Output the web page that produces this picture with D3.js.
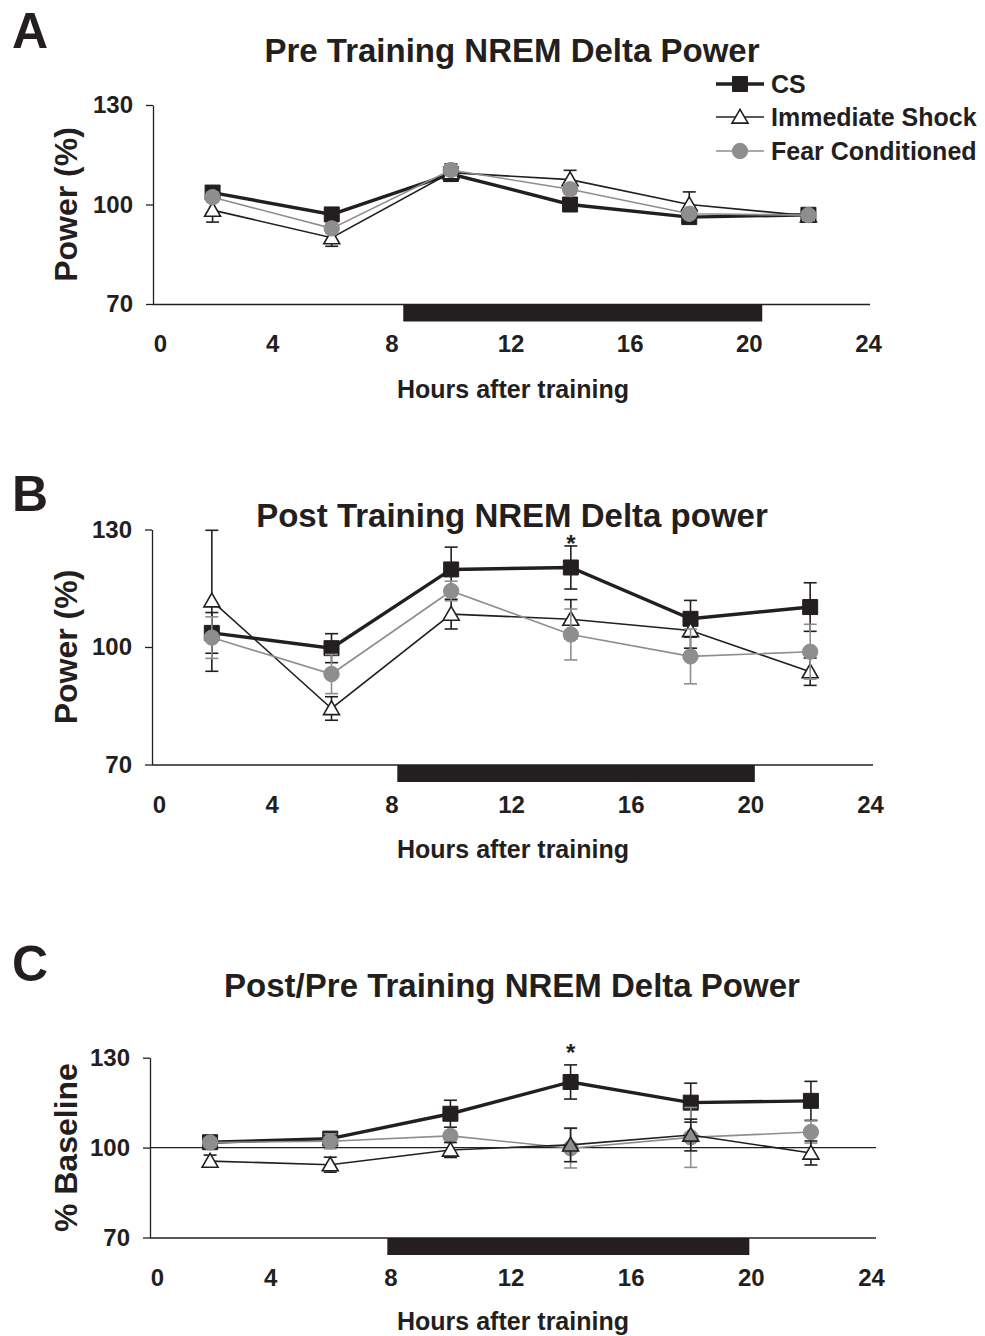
<!DOCTYPE html>
<html><head><meta charset="utf-8">
<script src="https://cdn.jsdelivr.net/npm/d3@7"></script>
<style>
body{margin:0;background:#fff;}
svg{display:block;font-family:"Liberation Sans",Arial,Helvetica,sans-serif;font-weight:bold;}
</style></head><body>
<svg id="chart" width="985" height="1336"></svg>
<script>
// ---------------- data ----------------
const hours = [2, 6, 10, 14, 18, 22];
const xTickValues = [0, 4, 8, 12, 16, 20, 24];
const yTickValues = [70, 100, 130];
const seriesNames = ["CS", "Immediate Shock", "Fear Conditioned"];
const panelLetters = ["A", "B", "C"];
const panelTitles = ["Pre Training NREM Delta Power", "Post Training NREM Delta power", "Post/Pre Training NREM Delta Power"];
const yAxisTitles = ["Power (%)", "Power (%)", "% Baseline"];
const xAxisTitle = "Hours after training";

// Panel A: pre training
const csA    = [103.6, 97.0, 109.2, 100.0, 96.2, 96.9];
const csErrA = [1.2, 1.2, 1.5, 1.2, 1.0, 1.0];
const isA    = [98.3, 90.0, 109.6, 107.5, 100.0, 96.6];
const isErrA = [3.6, 2.6, 2.6, 2.8, 3.8, 1.0];
const fcA    = [102.2, 92.8, 110.4, 104.6, 97.2, 96.8];
const fcErrA = [1.5, 1.5, 1.5, 1.5, 1.0, 1.0];

// Panel B: post training
const csB    = [103.6, 99.7, 119.8, 120.3, 107.2, 110.2];
const csErrB = [5.2, 3.7, 5.7, 5.5, 4.7, 6.2];
const isB    = [111.8, 84.3, 108.4, 107.1, 104.2, 93.7];
const isErrB = [18.0, 3.0, 3.8, 5.0, 4.5, 3.5];
const fcB    = [102.4, 93.1, 114.3, 103.2, 97.6, 98.8];
const fcErrB = [5.3, 5.0, 2.5, 6.5, 7.0, 7.0];

// Panel C: post / pre ratio (% baseline)
const csC    = [101.8, 103.0, 111.3, 121.9, 115.0, 115.6];
const csErrC = [1.0, 1.0, 4.5, 5.7, 6.5, 6.5];
const isC    = [95.5, 94.3, 99.2, 100.9, 104.2, 98.2];
const isErrC = [2.0, 2.5, 2.5, 5.6, 5.3, 4.0];
const fcC    = [101.7, 102.1, 103.9, 99.8, 103.4, 105.2];
const fcErrC = [1.5, 2.5, 1.5, 6.6, 10.0, 3.7];

// dark (lights-off) period bars, in hours
const darkA = [8.4, 20.45];
const darkB = [8.2, 20.15];
const darkC = [7.9, 19.95];

// significance markers (hour of CS point)
const starsA = [];
const starsB = [14];
const starsC = [14];

// ---------------- drawing ----------------
const svg = d3.select("#chart");
const INK = "#231f20";
const GRAY = "#8e8e8e";

const panels = [
  {letter: panelLetters[0], title: panelTitles[0], ytitle: yAxisTitles[0],
   series: [[csA, csErrA], [isA, isErrA], [fcA, fcErrA]], dark: darkA, stars: starsA, starGap: 9,
   left: 153, right: 868, top: 105, bottom: 304, axisEnd: 870,
   letterY: 48, titleY: 62, xTitleY: 398, legend: true, order: [0, 1, 2], grayTri: [], refLine: false},
  {letter: panelLetters[1], title: panelTitles[1], ytitle: yAxisTitles[1],
   series: [[csB, csErrB], [isB, isErrB], [fcB, fcErrB]], dark: darkB, stars: starsB, starGap: 8,
   left: 152, right: 870, top: 529.5, bottom: 764.5, axisEnd: 873,
   letterY: 511, titleY: 527, xTitleY: 858, legend: false, order: [0, 1, 2], grayTri: [], refLine: false},
  {letter: panelLetters[2], title: panelTitles[2], ytitle: yAxisTitles[2],
   series: [[csC, csErrC], [isC, isErrC], [fcC, fcErrC]], dark: darkC, stars: starsC, starGap: 18,
   left: 150, right: 871, top: 1057.7, bottom: 1237.5, axisEnd: 876,
   letterY: 981, titleY: 997, xTitleY: 1330, legend: false, order: [0, 2, 1], grayTri: [14, 18], refLine: true}
];

const styles = [
  {stroke: INK, width: 3.4, errColor: INK, shape: d3.symbolSquare, size: 225, fill: INK, mstroke: INK},
  {stroke: INK, width: 1.6, errColor: INK, shape: d3.symbolTriangle, size: 110, fill: "#fff", mstroke: INK},
  {stroke: GRAY, width: 1.6, errColor: GRAY, shape: d3.symbolCircle, size: 185, fill: GRAY, mstroke: GRAY}
];

function drawMarker(g, st, cx, cy, fill) {
  g.append("path")
    .attr("d", d3.symbol().type(st.shape).size(st.size)())
    .attr("transform", `translate(${cx},${cy + (st.shape === d3.symbolTriangle ? 1.5 : 0)})`)
    .attr("fill", fill || st.fill)
    .attr("stroke", st.mstroke)
    .attr("stroke-width", st.shape === d3.symbolTriangle ? 1.6 : 1);
}

panels.forEach(p => {
  const x = d3.scaleLinear().domain([0, 24]).range([p.left, p.right]);
  const y = d3.scaleLinear().domain([70, 130]).range([p.bottom, p.top]);
  const g = svg.append("g");

  // letter and title
  g.append("text").attr("x", 12).attr("y", p.letterY).attr("font-size", 50).attr("fill", INK).text(p.letter);
  g.append("text").attr("x", 512).attr("y", p.titleY).attr("text-anchor", "middle")
    .attr("font-size", 33).attr("fill", INK).text(p.title);

  // dark bar
  g.append("rect").attr("x", x(p.dark[0])).attr("width", x(p.dark[1]) - x(p.dark[0]))
    .attr("y", p.bottom + 0.5).attr("height", 17).attr("fill", INK);

  // x axis
  const xa = g.append("g").attr("transform", `translate(0,${p.bottom})`)
    .call(d3.axisBottom(x).tickValues(xTickValues).tickSize(0).tickPadding(31).tickFormat(d3.format("d")));
  xa.attr("font-size", null).attr("font-family", null);
  xa.select(".domain").attr("d", `M${p.left},0.5H${p.axisEnd}`).attr("stroke", INK).attr("stroke-width", 1.3);
  xa.selectAll("text").style("font-size", "24px").attr("fill", INK)
    .attr("dx", d => d === 0 ? 7 : 0);

  // y axis
  const ya = g.append("g").attr("transform", `translate(${p.left},0)`)
    .call(d3.axisLeft(y).tickValues(yTickValues).tickSize(7).tickSizeOuter(0).tickPadding(13));
  ya.attr("font-size", null).attr("font-family", null);
  ya.select(".domain").attr("stroke", INK).attr("stroke-width", 1.3);
  ya.selectAll(".tick line").attr("stroke", INK).attr("stroke-width", 1.3);
  ya.selectAll("text").style("font-size", "24px").attr("fill", INK);

  if (p.refLine) {
    g.append("line").attr("x1", p.left).attr("x2", p.axisEnd).attr("y1", y(100)).attr("y2", y(100))
      .attr("stroke", INK).attr("stroke-width", 1.3);
  }

  // axis titles
  g.append("text").attr("transform", `translate(77,${(p.top + p.bottom) / 2}) rotate(-90)`)
    .attr("text-anchor", "middle").attr("font-size", 32).attr("fill", INK).text(p.ytitle);
  g.append("text").attr("x", 513).attr("y", p.xTitleY).attr("text-anchor", "middle")
    .attr("font-size", 25).attr("fill", INK).text(xAxisTitle);

  // series
  p.order.forEach(si => {
    const [vals, errs] = p.series[si];
    const st = styles[si];
    const sg = g.append("g");
    const pts = hours.map((h, i) => ({h, v: vals[i], e: errs[i]}));
    // error bars
    pts.forEach(d => {
      const cx = x(d.h), y1 = y(d.v + d.e), y2 = y(d.v - d.e);
      sg.append("line").attr("x1", cx).attr("x2", cx).attr("y1", y1).attr("y2", y2)
        .attr("stroke", st.errColor).attr("stroke-width", 1.6);
      [y1, y2].forEach(yy => sg.append("line").attr("x1", cx - 6.5).attr("x2", cx + 6.5)
        .attr("y1", yy).attr("y2", yy).attr("stroke", st.errColor).attr("stroke-width", 1.6));
    });
    // line
    sg.append("path").datum(pts)
      .attr("d", d3.line().x(d => x(d.h)).y(d => y(d.v)))
      .attr("fill", "none").attr("stroke", st.stroke).attr("stroke-width", st.width);
    // markers
    pts.forEach(d => {
      const f = (si === 1 && p.grayTri.includes(d.h)) ? GRAY : null;
      drawMarker(sg, st, x(d.h), y(d.v), f);
    });
  });

  // stars
  p.stars.forEach(h => {
    const i = hours.indexOf(h);
    const top = p.series[0][0][i] + p.series[0][1][i];
    g.append("text").attr("x", x(h)).attr("y", y(top) - p.starGap).attr("dy", "0.57em")
      .attr("text-anchor", "middle").attr("font-size", 24).attr("fill", INK).text("*");
  });

  // legend
  if (p.legend) {
    const rows = [84, 117, 151];
    seriesNames.forEach((name, si) => {
      const st = styles[si];
      const ry = rows[si];
      g.append("line").attr("x1", 716).attr("x2", 764).attr("y1", ry).attr("y2", ry)
        .attr("stroke", st.stroke).attr("stroke-width", st.width);
      drawMarker(g, st, 740, ry, null);
      g.append("text").attr("x", 771).attr("y", ry + 9).attr("font-size", 25).attr("fill", INK).text(name);
    });
  }
});
</script>
</body></html>
